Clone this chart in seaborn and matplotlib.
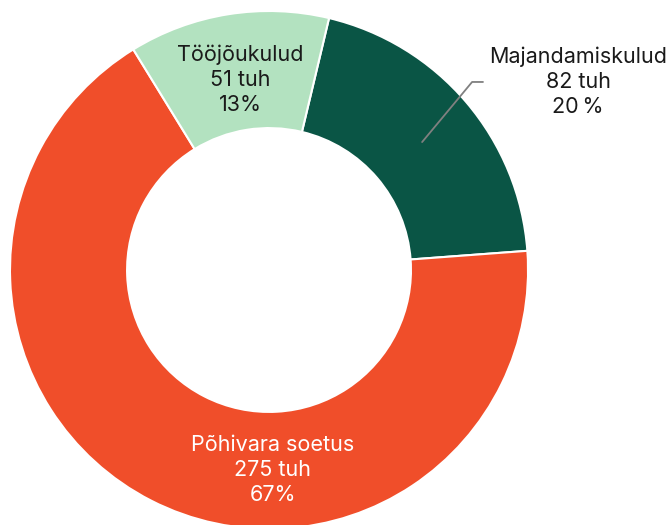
import matplotlib
matplotlib.use("Agg")
import matplotlib.pyplot as plt
import seaborn as sns

# kulude jaotus (tuh eurot)
categories = ["Majandamiskulud", "Põhivara soetus", "Tööjõukulud"]
values = [82, 275, 51]
shares = ["20\u2009%", "67%", "13%"]
colors = ["#0a5545", "#f04e2a", "#b3e2c0"]

sns.set_theme(style="white")
plt.rcParams["font.family"] = ["Inter", "DejaVu Sans"]

fig = plt.figure(figsize=(6.7, 5.25), dpi=100)
ax = fig.add_axes([0, 0, 1, 1])

wedges, _ = ax.pie(
    values,
    colors=colors,
    startangle=76.6,
    counterclock=False,
    radius=1.0,
    wedgeprops=dict(width=0.452, edgecolor="white", linewidth=1.5),
)

# labels
lbl = [f"{c}\n{v} tuh\n{s}" for c, v, s in zip(categories, values, shares)]
fs = 15.5
ax.text(1.193, 0.728, lbl[0], ha="center", va="center", fontsize=fs,
        color="#1a1a1a", linespacing=1.3)
ax.text(0.015, -0.772, lbl[1], ha="center", va="center", fontsize=fs,
        color="white", linespacing=1.3)
ax.text(-0.112, 0.735, lbl[2], ha="center", va="center", fontsize=fs,
        color="#1a1a1a", linespacing=1.3)

# leader line for Majandamiskulud
ax.plot([0.591, 0.784, 0.826], [0.494, 0.726, 0.726], color="#808080", lw=1.3)

ax.set_xlim(-1.0386, 1.548)
ax.set_ylim(-0.9846, 1.0425)
ax.set_aspect("auto")
ax.axis("off")

fig.savefig("out.png", dpi=100, facecolor="white")
